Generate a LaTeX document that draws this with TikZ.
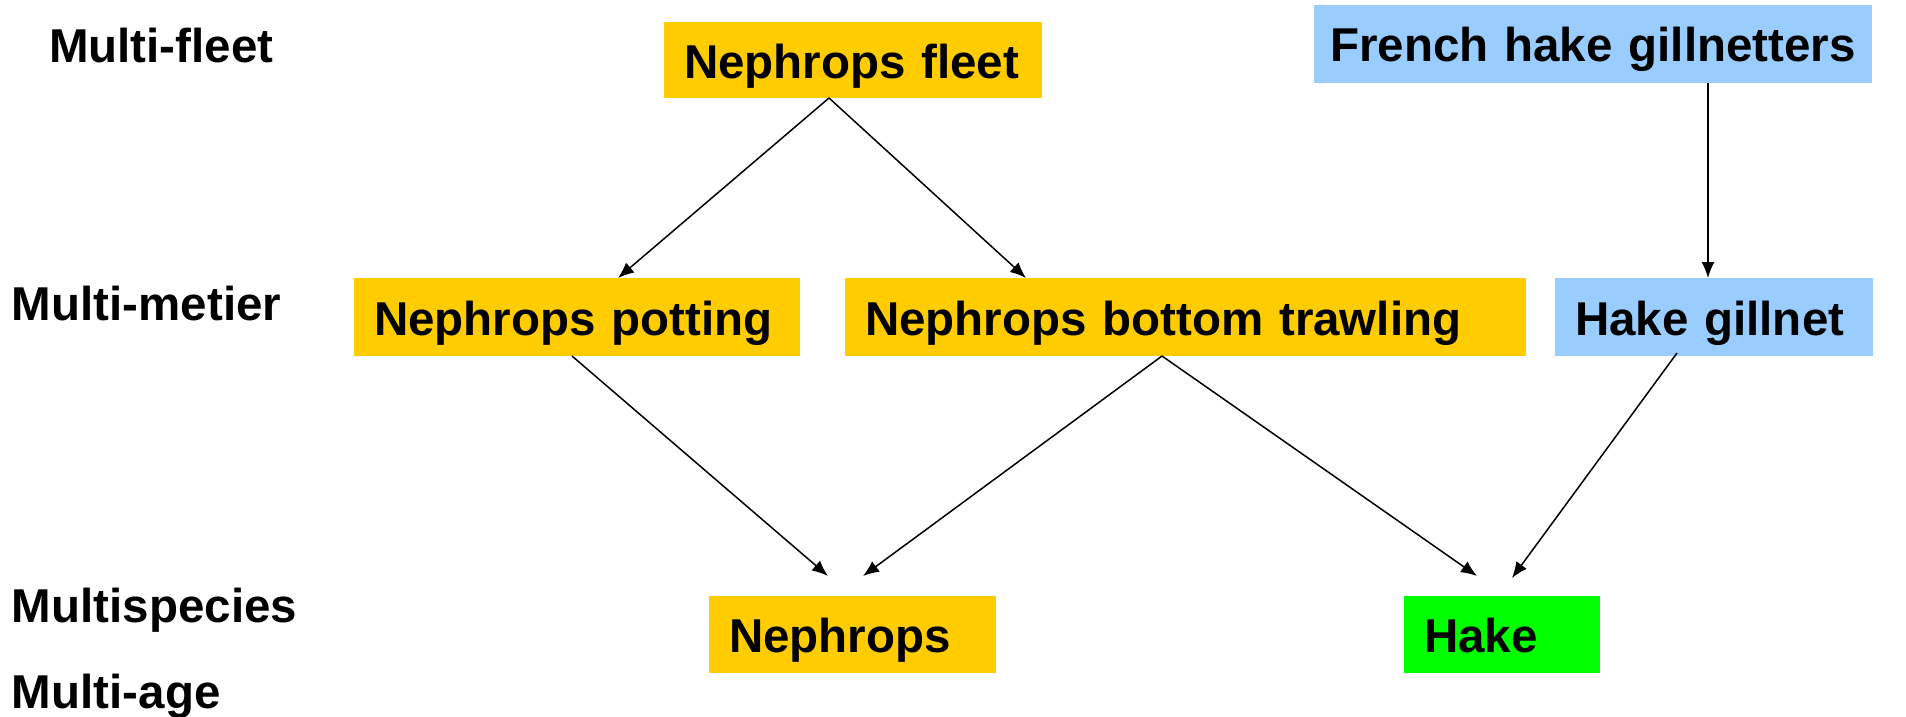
\documentclass[tikz,border=0pt]{standalone}
\usepackage{fontspec}
\setmainfont{Liberation Sans}
\usetikzlibrary{arrows.meta,calc}
\definecolor{boxorange}{HTML}{FFCC00}
\definecolor{boxblue}{HTML}{99CCFF}
\definecolor{boxgreen}{HTML}{00FF00}
\tikzset{
  bx/.style={rectangle, anchor=north west, inner xsep=20pt, inner ysep=0pt, outer sep=0pt,
    align=left, text height=36pt, text depth=0pt,
    font=\fontsize{47.5}{57}\selectfont\bfseries},
  lbl/.style={anchor=base west, inner sep=0pt, outer sep=0pt,
    font=\fontsize{47.5}{57}\selectfont\bfseries},
  arr/.style={-{Latex[length=16pt,width=13pt]}, line width=1.5pt}
}
\begin{document}
\begin{tikzpicture}[x=1pt,y=-1pt]
\useasboundingbox (0,0) rectangle (1906,717);
% left labels
\node[lbl] (lf) at (49,63) {Multi-fleet};
\node[lbl] (lm) at (12,320) {Multi-metier};
\node[lbl] (ls) at (12,622) {Multispecies};
\node[lbl] (la) at (12,708) {Multi-age};
% boxes
\node[bx, fill=boxorange, text width=338pt, minimum height=76pt] (fleet) at (664,22) {Nephrops fleet};
\node[bx, fill=boxblue, inner xsep=10pt, text width=538pt, align=center, minimum height=78pt] (french) at (1314,5) {French hake gillnetters};
\node[bx, fill=boxorange, text width=406pt, minimum height=78pt] (pot) at (354,278) {Nephrops potting};
\node[bx, fill=boxorange, text width=641pt, minimum height=78pt] (trawl) at (845,278) {Nephrops bottom trawling};
\node[bx, fill=boxblue, text width=278pt, minimum height=78pt] (gill) at (1555,278) {Hake gillnet};
\node[bx, fill=boxorange, text width=247pt, minimum height=77pt] (neph) at (709,596) {Nephrops};
\node[bx, fill=boxgreen, text width=156pt, minimum height=77pt] (hake) at (1404,596) {Hake};
% free arrow ends
\coordinate (nephA) at ($(neph.north west)+(119,-20)$);
\coordinate (nephB) at ($(neph.north west)+(154,-20)$);
\coordinate (hakeA) at ($(hake.north west)+(73,-20)$);
\coordinate (hakeB) at ($(hake.north west)+(108,-18)$);
% connectors
\draw[arr] ($(fleet.south west)+(165,0)$) -- ($(pot.north west)+(264,0)$);
\draw[arr] ($(fleet.south west)+(165,0)$) -- ($(trawl.north west)+(181,0)$);
\draw[arr] ($(french.south west)+(394,0)$) -- ($(gill.north west)+(153,0)$);
\draw[arr] ($(pot.south west)+(218,0)$) -- (nephA);
\draw[arr] ($(trawl.south west)+(317,0)$) -- (nephB);
\draw[arr] ($(trawl.south west)+(317,0)$) -- (hakeA);
\draw[arr] ($(gill.south west)+(122,-3)$) -- (hakeB);
\end{tikzpicture}
\end{document}
